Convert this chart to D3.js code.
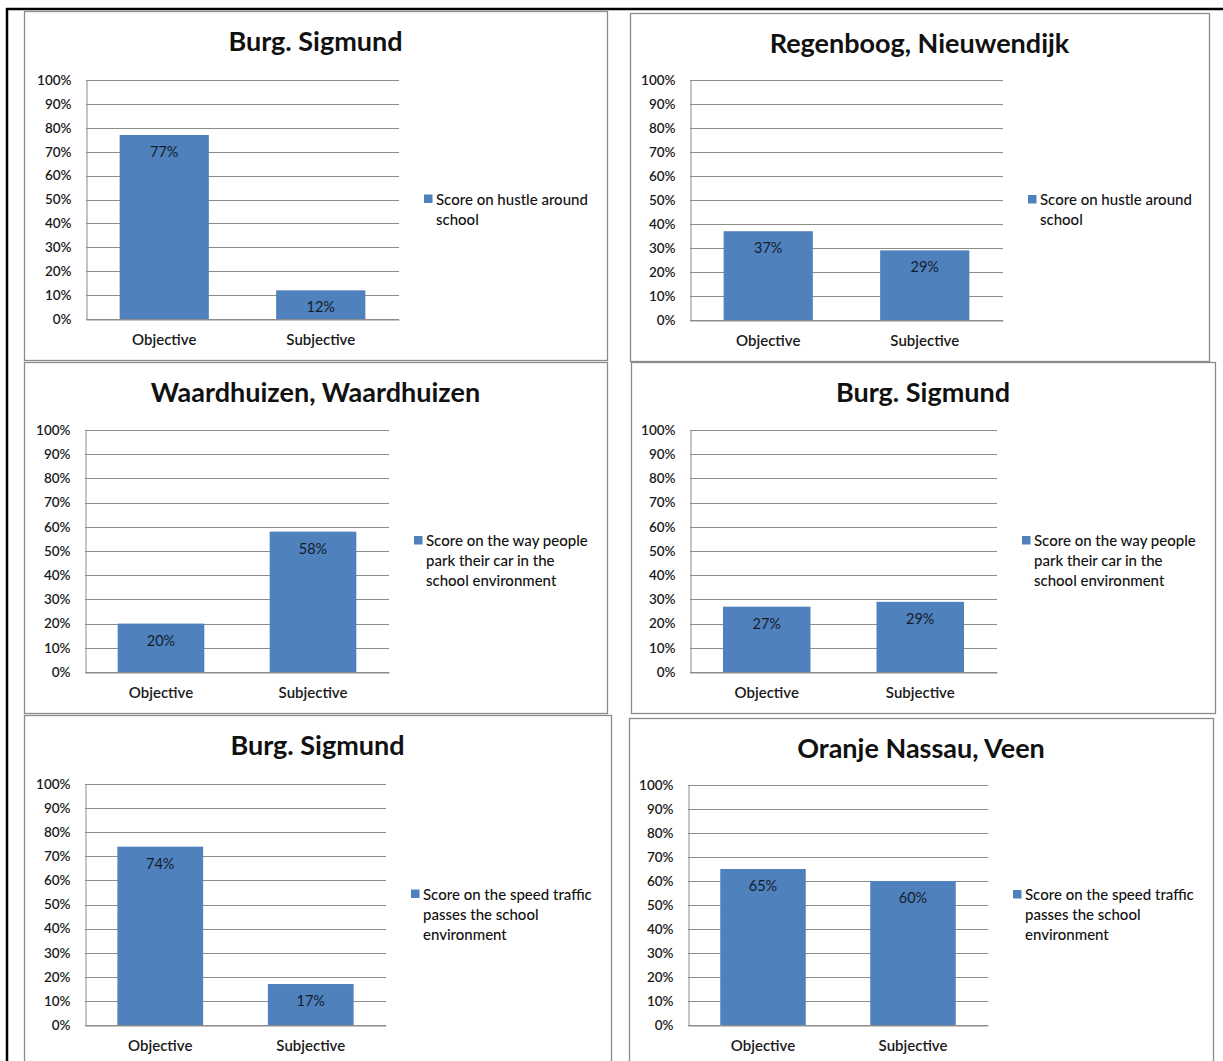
<!DOCTYPE html>
<html>
<head>
<meta charset="utf-8">
<script src="https://cdn.jsdelivr.net/npm/d3@7"></script>
<style>
  html, body { margin: 0; padding: 0; background: #fff; }
  svg { display: block; }
</style>
</head>
<body>
<svg id="chart" width="1223" height="1061"></svg>
<script>
// School traffic survey: objective vs subjective scores per school
const titles = [
  "Burg. Sigmund",
  "Regenboog, Nieuwendijk",
  "Waardhuizen, Waardhuizen",
  "Burg. Sigmund",
  "Burg. Sigmund",
  "Oranje Nassau, Veen"
];
const categories = ["Objective", "Subjective"];
const objectiveScores = [77, 37, 20, 27, 74, 65];
const subjectiveScores = [12, 29, 58, 29, 17, 60];
const legendLabels = [
  ["Score on hustle around", "school"],
  ["Score on hustle around", "school"],
  ["Score on the way people", "park their car in the", "school environment"],
  ["Score on the way people", "park their car in the", "school environment"],
  ["Score on the speed traffic", "passes the school", "environment"],
  ["Score on the speed traffic", "passes the school", "environment"]
];
const yTicks = [0, 10, 20, 30, 40, 50, 60, 70, 80, 90, 100];

// Frame and plot-area geometry for each chart box
const layout = [
  { box: [24, 11, 607, 360],  plot: [86, 80, 399, 319] },
  { box: [630, 13, 1209, 361], plot: [690, 80, 1003, 320] },
  { box: [24, 362, 607, 713], plot: [85, 430, 389, 672] },
  { box: [631, 362, 1215, 713], plot: [690, 430, 997, 672] },
  { box: [24, 715, 611, 1075], plot: [85, 784, 386, 1025] },
  { box: [629, 718, 1213, 1075], plot: [688, 785, 988, 1025] }
];

const BAR = "#4f81bd";
const GRID = "#8c8c8c";
const FONT = "Lato, 'Open Sans', sans-serif";

const svg = d3.select("#chart");

// outer page rule (left and top)
svg.append("line").attr("x1", 7).attr("x2", 7).attr("y1", 8).attr("y2", 1061)
  .attr("stroke", "#000").attr("stroke-width", 2.5);
svg.append("line").attr("x1", 6).attr("x2", 1223).attr("y1", 9).attr("y2", 9)
  .attr("stroke", "#000").attr("stroke-width", 2.5);

titles.forEach((title, i) => {
  const L = layout[i];
  const [bx0, by0, bx1, by1] = L.box;
  const [px0, py0, px1, py1] = L.plot;
  const g = svg.append("g");

  g.append("rect")
    .attr("x", bx0 + 0.5).attr("y", by0 + 0.5)
    .attr("width", bx1 - bx0).attr("height", by1 - by0)
    .attr("fill", "#fff").attr("stroke", "#8a8a8a").attr("stroke-width", 1.3);

  g.append("text")
    .attr("x", (bx0 + bx1) / 2).attr("y", by0 + 40)
    .attr("text-anchor", "middle")
    .attr("font-family", FONT).attr("font-weight", "bold")
    .attr("font-size", 27).attr("fill", "#111")
    .text(title);

  const x = d3.scaleBand().domain(categories).range([px0, px1])
    .paddingInner(0.43).paddingOuter(0.215);
  const y = d3.scaleLinear().domain([0, 100]).range([py1, py0]);

  // gridlines
  g.append("g").selectAll("line").data(yTicks).join("line")
    .attr("x1", px0).attr("x2", px1)
    .attr("y1", d => Math.round(y(d)) + 0.5).attr("y2", d => Math.round(y(d)) + 0.5)
    .attr("stroke", GRID).attr("stroke-width", 1);

  // value axis
  const yAxis = g.append("g")
    .attr("transform", `translate(${px0 + 0.5},0)`)
    .call(d3.axisLeft(y).tickValues(yTicks).tickFormat(d => d + "%").tickSize(0).tickPadding(15));
  yAxis.select(".domain").attr("stroke", GRID);
  yAxis.selectAll("text")
    .attr("font-family", FONT).attr("font-size", 13.5).attr("font-weight", 600).attr("fill", "#1a1a1a");

  const vals = [objectiveScores[i], subjectiveScores[i]];

  g.append("g").selectAll("rect").data(vals).join("rect")
    .attr("x", (d, j) => x(categories[j]))
    .attr("y", d => y(d))
    .attr("width", x.bandwidth())
    .attr("height", d => y(0) - y(d))
    .attr("fill", BAR);

  g.append("g").selectAll("text").data(vals).join("text")
    .attr("x", (d, j) => x(categories[j]) + x.bandwidth() / 2)
    .attr("y", d => y(d) + 22)
    .attr("text-anchor", "middle")
    .attr("font-family", FONT).attr("font-size", 14.5).attr("fill", "#141c2a")
    .text(d => d + "%");

  // category axis
  const xAxis = g.append("g")
    .attr("transform", `translate(0,${Math.round(py1) + 0.5})`)
    .call(d3.axisBottom(x).tickSize(0).tickPadding(15));
  xAxis.select(".domain").attr("stroke", GRID);
  xAxis.selectAll("text")
    .attr("font-family", FONT).attr("font-size", 15).attr("font-weight", 600).attr("fill", "#1a1a1a");

  // legend
  const lines = legendLabels[i];
  const firstY = (py0 + py1) / 2 - (lines.length - 1) * 10 + 15;
  const lx = px1 + 25;
  g.append("rect").attr("x", lx).attr("y", firstY - 10)
    .attr("width", 8.5).attr("height", 8.5).attr("fill", BAR);
  g.append("g").selectAll("text").data(lines).join("text")
    .attr("x", lx + 12).attr("y", (d, k) => firstY + k * 20)
    .attr("font-family", FONT).attr("font-size", 15).attr("font-weight", 500).attr("fill", "#111")
    .text(d => d);
});
</script>
</body>
</html>
